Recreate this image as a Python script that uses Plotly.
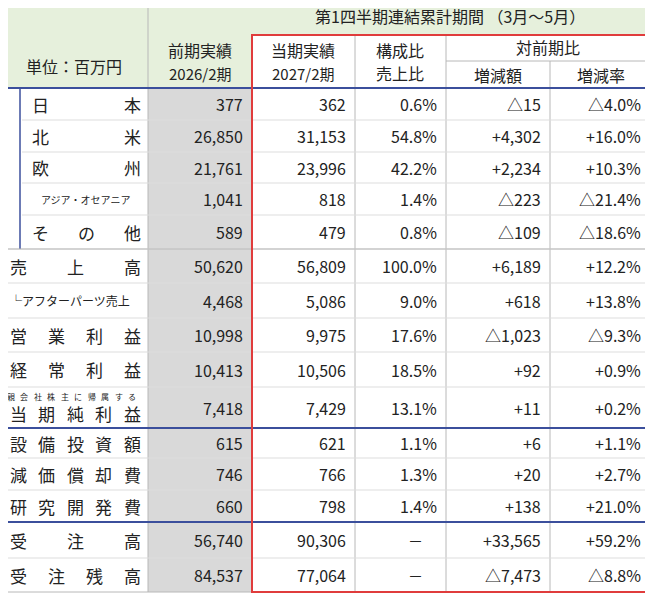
import plotly.graph_objects as go

FONT = "Noto Sans CJK JP"

labels = ["日本", "北米", "欧州", "アジア・オセアニア", "その他", "売上高", "└アフターパーツ売上",
          "営業利益", "経常利益", "当期純利益", "設備投資額", "減価償却費", "研究開発費", "受注高", "受注残高"]
prev = ["377", "26,850", "21,761", "1,041", "589", "50,620", "4,468", "10,998", "10,413", "7,418",
        "615", "746", "660", "56,740", "84,537"]
cur = ["362", "31,153", "23,996", "818", "479", "56,809", "5,086", "9,975", "10,506", "7,429",
       "621", "766", "798", "90,306", "77,064"]
ratio = ["0.6%", "54.8%", "42.2%", "1.4%", "0.8%", "100.0%", "9.0%", "17.6%", "18.5%", "13.1%",
         "1.1%", "1.3%", "1.4%", "－", "－"]
diff = ["△15", "+4,302", "+2,234", "△223", "△109", "+6,189", "+618", "△1,023", "+92", "+11",
        "+6", "+20", "+138", "+33,565", "△7,473"]
rate = ["△4.0%", "+16.0%", "+10.3%", "△21.4%", "△18.6%", "+12.2%", "+13.8%", "△9.3%", "+0.9%", "+0.2%",
        "+1.1%", "+2.7%", "+21.0%", "+59.2%", "△8.8%"]

# layout geometry (pixels of the reference)
col_x = [0, 148, 252, 355, 446, 550, 650]
row_y = [88, 120, 152, 183, 215, 249, 283, 318, 352, 387, 428, 458, 490, 522, 558, 592]
GREEN = "#e6f0dc"
BLUE = "#3b4f9c"
RED = "#e03c3c"
GRID = "#b8b8b8"
PAD = 8  # page body margin in the browser

fig = go.Figure()
shapes = []
ann = []


def rect(x0, y0, x1, y1, fill):
    shapes.append(dict(type="rect", x0=x0, y0=y0, x1=x1, y1=y1, fillcolor=fill,
                       line=dict(color=fill, width=0), layer="below"))


def line(x0, y0, x1, y1, color, w=1):
    shapes.append(dict(type="line", x0=x0, y0=y0, x1=x1, y1=y1, line=dict(color=color, width=w)))


def text(x, y, s, size=16, anchor="center", color="#222"):
    ann.append(dict(x=x, y=y, text=s, showarrow=False, xanchor=anchor, yanchor="middle",
                    font=dict(family=FONT, size=size, color=color)))


def spread(x0, x1, y, s, size=16):
    n = len(s)
    for i, ch in enumerate(s):
        x = x0 + (x1 - x0) * (i / (n - 1) if n > 1 else 0.5)
        text(x, y, ch, size)


# header backgrounds
rect(0, 0, 653, 35, GREEN)
rect(0, 35, 252, 88, GREEN)
rect(148, 88, 252, row_y[-1], "#d9d9d9")
rect(0, 595, 653, 602, "#eeeeee")

# header text
text(450, 16, "第1四半期連結累計期間 （3月～5月）", 16)
text(74, 66, "単位：百万円", 16)
text(200, 50, "前期実績", 16)
text(200, 73, "2026/2期", 15)
text(303, 50, "当期実績", 16)
text(303, 73, "2027/2期", 15)
text(400, 50, "構成比", 16)
text(400, 73, "売上比", 16)
text(548, 47, "対前期比", 16)
text(498, 75, "増減額", 16)
text(601, 75, "増減率", 16)
line(446, 61, 653, 61, GRID)
line(550, 61, 550, 88, GRID)
line(148, 0, 148, 88, GRID)
line(355, 35, 355, 88, GRID)
line(446, 35, 446, 88, GRID)

# grid lines in body
for x in col_x[1:-1]:
    line(x, 88, x, row_y[-1], GRID)
for i, y in enumerate(row_y[1:-1], start=1):
    if y not in (428, 522):
        x0 = 22 if i < 5 else 0
        line(x0, y, 653, y, "#dddddd")
line(20, 88, 20, 249, BLUE, 1.5)
line(0, 249, 653, 249, GRID)
for y in (88, 428, 522):
    line(0, y, 653, y, BLUE, 2)
line(0, row_y[-1], 653, row_y[-1], GRID)

# red frame around current period
shapes.append(dict(type="rect", x0=252, y0=35, x1=650, y1=row_y[-1],
                   line=dict(color=RED, width=2)))

# body text
for i, lab in enumerate(labels):
    yc = (row_y[i] + row_y[i + 1]) / 2
    if i < 5:
        if lab == "アジア・オセアニア":
            text(85, yc, lab, 10)
        else:
            spread(40, 132, yc, lab, 17)
    elif lab.startswith("└"):
        text(8, yc, lab, 12, anchor="left")
    elif lab == "当期純利益":
        spread(11, 132, yc - 11, "親会社株主に帰属する", 8)
        spread(18, 132, yc + 6, lab, 17)
    else:
        spread(18, 132, yc, lab, 17)
    for j, col in enumerate([prev, cur, ratio, diff, rate]):
        xr = col_x[j + 2] - 7
        if col[i] == "－":
            text(xr - 14, yc, col[i], 15, anchor="right")
        else:
            text(xr, yc, col[i], 16, anchor="right")

fig.update_layout(
    width=653 - 2 * PAD, height=602 - 2 * PAD, margin=dict(l=0, r=0, t=0, b=0),
    plot_bgcolor="white", paper_bgcolor="white",
    xaxis=dict(range=[PAD, 653 - PAD], visible=False, fixedrange=True),
    yaxis=dict(range=[602 - PAD, PAD], visible=False, fixedrange=True),
    shapes=shapes, annotations=ann, showlegend=False,
)
fig.write_html("out.html")
